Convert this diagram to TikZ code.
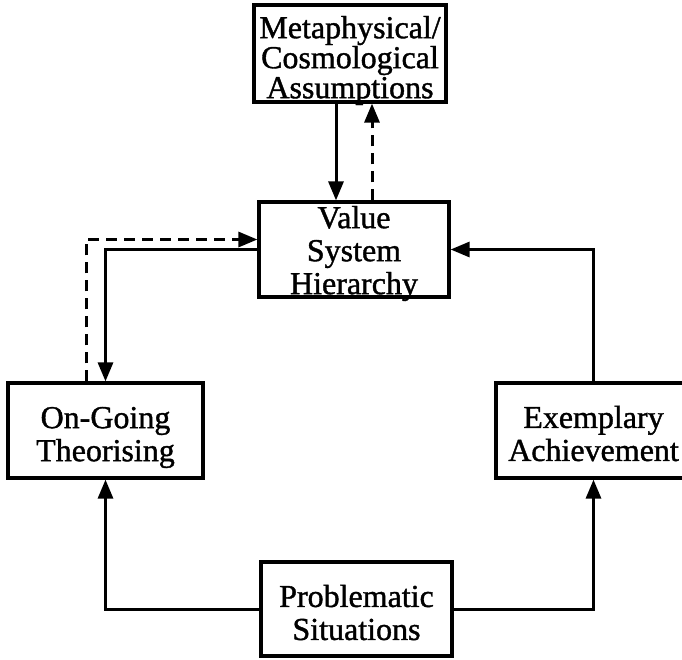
\documentclass[tikz,border=0pt]{standalone}
\usepackage{fontspec}
\setmainfont{Liberation Serif}
\newfontfamily\heavyserif{Liberation Serif}[FakeBold=1.2]
\usetikzlibrary{arrows.meta}
\begin{document}
\begin{tikzpicture}[x=1pt,y=-1pt,
  box/.style={draw, line width=3.2pt, inner sep=0pt},
  lbl/.style={align=center, inner sep=0pt, font=\heavyserif\fontsize{32}{33}\selectfont},
  conn/.style={line width=3pt, -{Triangle[length=19pt,width=15pt]}},
  dconn/.style={conn, dash pattern=on 11pt off 7pt}]
\clip (0,0) rectangle (682,659);
\node[box, minimum width=192pt, minimum height=97pt,
  label={[lbl, yshift=-7pt, font=\heavyserif\fontsize{32}{30}\selectfont]center:{Metaphysical/\\Cosmological\\Assumptions}}] (meta) at (350,53.5) {};
\node[box, minimum width=190pt, minimum height=95pt,
  label={[lbl, yshift=-4pt]center:{Value\\System\\Hierarchy}}] (value) at (354,249.5) {};
\node[box, minimum width=195pt, minimum height=95pt,
  label={[lbl, yshift=-7pt]center:{On-Going\\Theorising}}] (ongoing) at (105.5,430.5) {};
\node[box, minimum width=195pt, minimum height=95pt,
  label={[lbl, yshift=-3pt]center:{Exemplary\\Achievement}}] (exemp) at (593.5,430.5) {};
\node[box, minimum width=191pt, minimum height=94pt,
  label={[lbl, yshift=-3.5pt]center:{Problematic\\Situations}}] (prob) at (356.5,609) {};
\draw[conn] ([xshift=-14pt]meta.south) -- ([xshift=-14pt]meta.south |- value.north);
\draw[dconn] ([xshift=22pt]meta.south |- value.north) -- ([xshift=22pt]meta.south);
\draw[conn] (value.west) -| (ongoing.north);
\draw[dconn] ([xshift=-19.5pt]ongoing.north) |- ([yshift=10pt]value.west);
\draw[conn] (exemp.north) |- (value.east);
\draw[conn] (prob.west) -| (ongoing.south);
\draw[conn] (prob.east) -| (exemp.south);
\end{tikzpicture}
\end{document}
